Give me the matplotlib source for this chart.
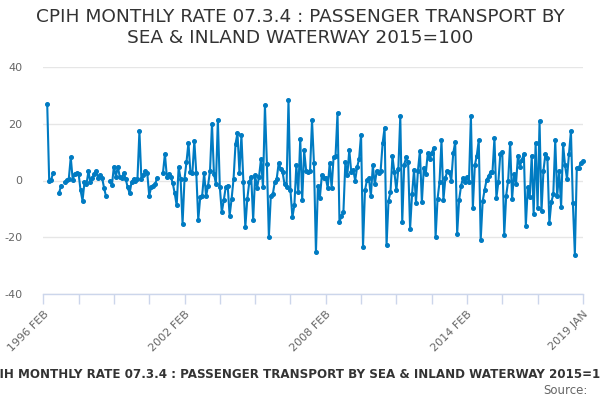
import numpy as np
import pandas as pd
import matplotlib
matplotlib.use("Agg")
import matplotlib.pyplot as plt

nan = np.nan

title = "CPIH MONTHLY RATE 07.3.4 : PASSENGER TRANSPORT BY\nSEA & INLAND WATERWAY 2015=100"
caption = "CPIH MONTHLY RATE 07.3.4 : PASSENGER TRANSPORT BY SEA & INLAND WATERWAY 2015=100"

# monthly rate, 1996 APR .. 2019 JAN (nan = no value)
rate_1996_2000 = [26.8, 0.0, 0.3, 2.6, nan, nan, -4.4, -2.1, nan,
                  -0.6, 0.2, 0.6, 8.2, 0.2, 2.4, 2.6, 2.4, -3.5, -7.1, -0.6,
                  -1.4, 3.2, -0.6, 0.9, 2.4, 3.2, 0.9, 2.0, 0.9, -2.7, -5.6, nan,
                  -0.2, -1.5, 4.9, 1.4, 4.9, 1.2, 0.9, 2.6, 0.6, -2.4, -4.5,
                  -0.6, 0.6, -0.2, 0.4, 17.4, 0.6, 2.1, 3.2, 2.6, -5.3, -2.4,
                  -1.8, -1.4, 0.9, nan, nan]
rate_2001_2005 = [2.6, 9.4, 1.2, 2.4, 1.4, -1.0, -4.5, -8.8, 4.7, 0.6, -15.3,
                  0.6, 6.5, 13.3, 2.9, 2.6, 13.9, 2.6, -13.9, -5.9, -5.3, 2.6,
                  -5.6, -1.8, 3.5, 20.0, 2.4, -1.2, 21.4,
                  -2.4, -11.2, -7.0, -2.4, -1.8, -12.4, -6.5, 0.6, 12.9, 16.7,
                  2.6, 15.9, -0.6, -16.5, -6.5, -0.6, 1.4, -13.9, 1.8, -2.6,
                  1.4, 7.6, -2.4]
rate_2005_2009 = [26.5, 5.9, -20.0, -5.3, -4.9, -0.6, 0.6, 6.1, 4.1, 2.9, -1.4,
                  -2.4, 28.2, -3.5, -12.9, -8.8, 5.3, -4.1, 14.7, -7.0, 10.6,
                  3.5, 2.9, 3.5, 21.2, 6.0,
                  -25.3, -2.1, -6.1, 1.8, 0.9, 0.9, -2.6, 6.1, -2.6, 8.2, 8.8,
                  23.8, -14.7, -12.4, -11.2, 6.5, 1.8, 10.8, 2.9, 3.8, 0.0, 4.7,
                  7.6, 16.2, -23.3, -3.5, 0.2, 0.9, -5.6, 5.3, -1.4, 3.5, 2.6]
rate_2010_2014 = [3.5, 13.2, 18.6, -22.9, -7.1, -4.1, 8.5, 2.9, -3.5, 4.1, 22.6,
                  -14.7, 5.6, 8.2, 6.5, -17.0, -4.9, 3.8, -7.8, 3.5, 10.4, -7.6,
                  4.5, 2.4, 9.6, 7.6, 9.6, 11.5, -20.0, -6.5, -0.6, 14.1, -6.8,
                  0.9, 3.5, 2.9, 0.0, 9.6, 13.5, -18.8, -6.8, -1.8, 0.9, -0.6,
                  1.2, -0.6, 22.6, -9.6, 5.3, 8.8, 14.1, -20.9, -7.3, -3.3, 0.2,
                  1.5, 2.9, 2.9, 14.9, -6.1, -0.6, 9.4, 10.0]
rate_2015_2019 = [-19.1, -5.3, 0.0, 13.2, -6.5, 2.4, -1.2, 8.8, 4.9, 7.3, 9.4,
                  -15.9, -2.4, -5.9, 8.8, -11.8, 13.2, -9.6, 20.9, -10.8, 3.5,
                  9.4, 8.0, -15.1, -7.6, -4.9, 14.1, -5.6, 3.3, -9.2, 12.7, 5.3,
                  0.6, 9.4, 17.4, -8.0, -26.1, 4.5, 4.5, 6.2, 6.7]

rate = np.array(rate_1996_2000 + rate_2001_2005 + rate_2005_2009
                + rate_2010_2014 + rate_2015_2019)
dates = pd.date_range("1996-04-01", "2019-01-01", freq="MS")
axis_start = pd.Timestamp("1996-02-01")
axis_end = pd.Timestamp("2019-01-01")

def month_pos(d):
    return (d.year - axis_start.year) * 12 + (d.month - axis_start.month)

x = np.array([month_pos(d) for d in dates])
end_pos = month_pos(axis_end)

tick_pos = list(range(0, end_pos - 18, 18)) + [end_pos]
tick_lab = []
for p in tick_pos:
    if p % 72 == 0 or p == end_pos:
        d = axis_start + pd.DateOffset(months=p)
        tick_lab.append(d.strftime("%Y %b").upper())
    else:
        tick_lab.append("")

fig = plt.figure(figsize=(6, 4), dpi=100)
ax = fig.add_axes([43.3 / 600, 1 - 294 / 400, (582.7 - 43.3) / 600, (294 - 67) / 400])

blue = "#007bc2"
ax.plot(x, rate, color=blue, lw=1.5, marker="o", ms=2.6, mec=blue, mfc=blue,
        clip_on=False, zorder=3)

ax.set_xlim(0, end_pos)
ax.set_ylim(-40, 40)
ax.set_yticks([-40, -20, 0, 20, 40])
ax.set_yticklabels(["-40", "-20", "0", "20", "40"])
ax.set_xticks(tick_pos)
ax.set_xticklabels(tick_lab, rotation=45, ha="right", rotation_mode="anchor")

for s in ["top", "right", "left"]:
    ax.spines[s].set_visible(False)
ax.spines["bottom"].set_color("#ccd6eb")
ax.spines["bottom"].set_linewidth(1.0)

ax.grid(axis="y", color="#e6e6e6", lw=1.0)
ax.set_axisbelow(True)
ax.tick_params(axis="y", length=0, pad=15, labelsize=8, labelcolor="#666666")
ax.tick_params(axis="x", length=7, color="#ccd6eb", width=1.0, pad=4,
               labelsize=8, labelcolor="#666666")

fig.text(0.5, 1 - 8 / 400, title, ha="center", va="top", fontsize=13.3,
         color="#333333", linespacing=1.2)
fig.text(0.5, 1 - 374 / 400, caption, ha="center", va="center", fontsize=8.6,
         fontweight="bold", color="#333333")
fig.text(588 / 600, 1 - 391 / 400, "Source:", ha="right", va="center",
         fontsize=8.5, color="#666666")

fig.savefig("out.png", dpi=100)
